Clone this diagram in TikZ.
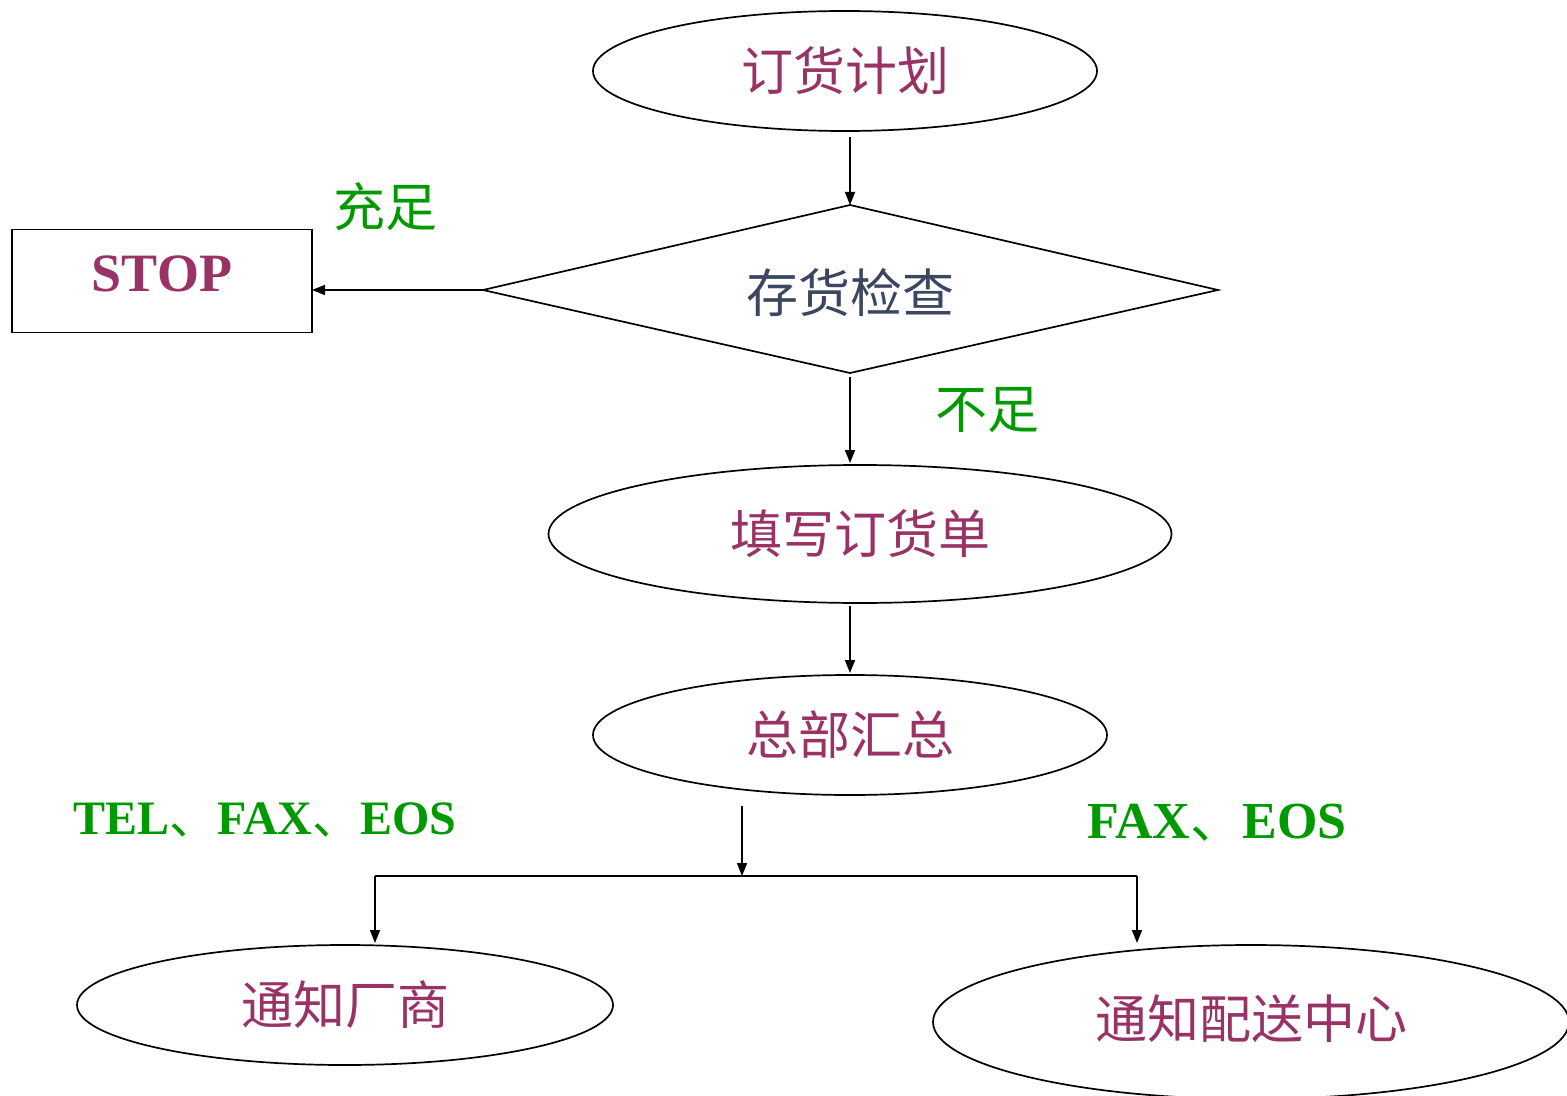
\documentclass[tikz,border=0pt]{standalone}
\usepackage{fontspec}
\setmainfont{Liberation Serif}
\newfontfamily\cjk{Noto Sans CJK SC}
\usetikzlibrary{shapes.geometric,arrows.meta}
\definecolor{maroon}{HTML}{993366}
\definecolor{slate}{HTML}{3B4660}
\definecolor{grn}{HTML}{009900}
\begin{document}
\begin{tikzpicture}[x=0.5pt,y=-0.5pt,
  every node/.style={inner sep=0pt,outer sep=0pt},
  oval/.style={draw,line width=0.85pt,ellipse,text=maroon,font=\cjk\fontsize{26}{26}\selectfont},
  lbl/.style={text=grn,font=\cjk\fontsize{26}{26}\selectfont},
  lbllat/.style={text=grn,font=\bfseries\fontsize{24}{24}\selectfont},
  conn/.style={line width=0.85pt,-{Triangle[length=6.5pt,width=5pt]}},
  plain/.style={line width=0.85pt}]
\useasboundingbox (0,0) rectangle (1567,1096);
\begin{scope}
\clip (0,0) rectangle (1567,1096);
\node[oval,minimum width=252pt,minimum height=60pt] (e1) at (845,71) {\raisebox{-1.5pt}{订货计划}};
\coordinate (dn) at (850,205);
\coordinate (dw) at (483,290);
\coordinate (de) at (1218,290);
\coordinate (ds) at (850,373);
\draw[plain,line join=miter] (dn) -- (de) -- (ds) -- (dw) -- cycle;
\node[text=slate,font=\cjk\fontsize{26}{26}\selectfont] (dia) at (850,293) {存货检查};
\node[draw,line width=0.85pt,rectangle,minimum width=150pt,minimum height=51.5pt] (stop) at (162,281) {};
\node[text=maroon,font=\bfseries\fontsize{27}{27}\selectfont] (stoptxt) at (162,274) {STOP};
\node[oval,minimum width=311.5pt,minimum height=69pt] (e2) at (860,534) {填写订货单};
\node[oval,minimum width=257pt,minimum height=60pt] (e3) at (850,735) {\raisebox{-1pt}{总部汇总}};
\node[oval,minimum width=268pt,minimum height=60pt] (e4) at (345,1005) {\raisebox{-1.5pt}{通知厂商}};
\node[oval,minimum width=318pt,minimum height=77pt] (e5) at (1251,1022) {\raisebox{5pt}{通知配送中心}};
\end{scope}
\node[lbl] (l1) at (385,207) {充足};
\node[lbl] (l2) at (987,410) {不足};
\node[lbllat] (l3) at (265,820) {TEL{\cjk\mdseries 、}FAX{\cjk\mdseries 、}EOS};
\node[lbllat,font=\bfseries\fontsize{26}{26}\selectfont] (l4) at (1217,823) {FAX{\cjk\mdseries 、}EOS};
\coordinate (j) at (742,876);
\coordinate (jl) at (375,876);
\coordinate (jr) at (1137,876);
\coordinate (s3) at (742,806);
\draw[conn] ([yshift=-3pt]dn |- e1.south) -- (dn);
\draw[conn] (dw) -- (dw -| stop.east);
\draw[conn] ([yshift=-2pt]ds) -- ([yshift=1pt]ds |- e2.north);
\draw[conn] ([yshift=-1.5pt]ds |- e2.south) -- ([yshift=1pt]ds |- e3.north);
\draw[conn] (s3) -- (j);
\draw[plain] (jl) -- (jr);
\draw[conn] (jl) -- ([yshift=1pt]jl |- e4.north);
\draw[conn] (jr) -- ([yshift=1pt]jr |- e5.north);
\end{tikzpicture}
\end{document}
